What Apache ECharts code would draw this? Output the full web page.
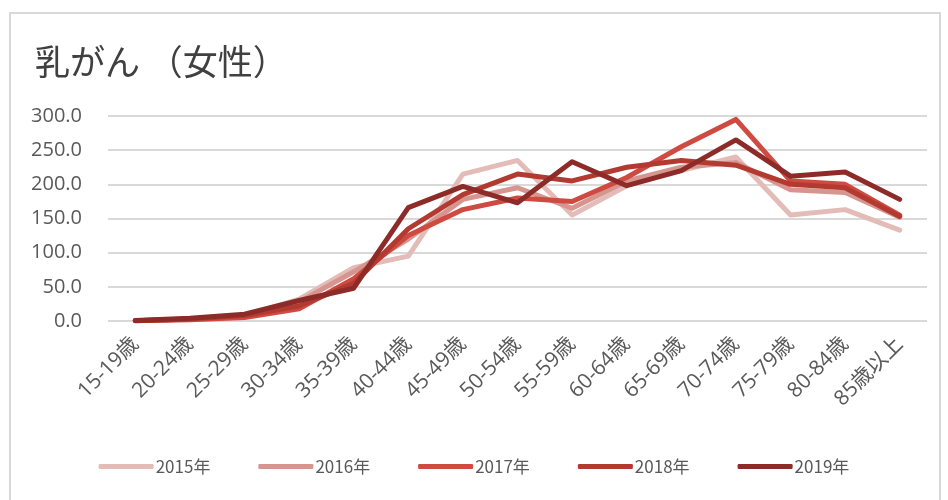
<!DOCTYPE html>
<html><head><meta charset="utf-8">
<script src="https://cdn.jsdelivr.net/npm/echarts@6/dist/echarts.min.js"></script>
<style>html,body{margin:0;padding:0;background:#fff}#c{width:948px;height:500px}</style>
</head><body><div id="c"></div>
<script>
const categories = ['15-19歳','20-24歳','25-29歳','30-34歳','35-39歳','40-44歳','45-49歳','50-54歳','55-59歳','60-64歳','65-69歳','70-74歳','75-79歳','80-84歳','85歳以上'];
const yTicks = [0, 50, 100, 150, 200, 250, 300];
const seriesNames = ['2015年','2016年','2017年','2018年','2019年'];
const v2015 = [0.5, 3, 8, 32, 78, 95, 215, 235, 155, 198, 220, 240, 155, 163, 133];
const v2016 = [0.5, 3, 7, 28, 72, 120, 178, 195, 165, 205, 225, 232, 192, 188, 152];
const v2017 = [0.4, 2, 5, 18, 62, 125, 163, 180, 175, 210, 255, 295, 205, 200, 155];
const v2018 = [0.5, 3, 8, 22, 55, 135, 185, 215, 205, 225, 235, 228, 200, 195, 153];
const v2019 = [0.6, 4, 10, 30, 48, 166, 197, 173, 233, 198, 220, 265, 212, 218, 178];
const colors = ['#e3bcb8','#d6958e','#cf4a40','#b33a31','#8c2b28'];
const values = [v2015, v2016, v2017, v2018, v2019];

const chart = echarts.init(document.getElementById('c'));
chart.setOption({
  animation: false,
  backgroundColor: '#fff',
  color: colors,
  graphic: [{type:'rect', shape:{x:10,y:13,width:930,height:490}, style:{fill:'none', stroke:'#d9d9d9', lineWidth:2}, silent:true}],
  title: {text:'乳がん （女性）', left:30, top:39, textStyle:{fontFamily:'Noto Sans CJK JP', fontSize:35, fontWeight:'normal', color:'#404040'}},
  grid: {left:108, right:21, top:116, bottom:179},
  legend: {bottom:20, left:'center', itemWidth:55, itemHeight:5, itemGap:48, icon:'roundRect',
    textStyle:{fontFamily:'Noto Sans CJK JP', fontSize:17, color:'#595959', padding:[0,0,0,-3]},
    data: seriesNames},
  xAxis: {type:'category', data:categories, boundaryGap:true,
    axisLine:{show:false}, axisTick:{show:false},
    axisLabel:{rotate:45, fontFamily:'Open Sans, Noto Sans CJK JP', fontSize:21, color:'#595959', margin:20, interval:0}},
  yAxis: {type:'value', min:yTicks[0], max:yTicks[yTicks.length-1], interval:50,
    axisLine:{show:false}, axisTick:{show:false},
    splitLine:{lineStyle:{color:'#d9d9d9', width:2}},
    axisLabel:{formatter: v => v.toFixed(1), fontFamily:'Open Sans', fontSize:20, color:'#595959', margin:26}},
  series: values.map((d,i)=>({name:seriesNames[i], type:'line', data:d, showSymbol:false, symbol:'none',
    lineStyle:{width:5, color:colors[i], cap:'round', join:'round'}, itemStyle:{color:colors[i]}}))
});
</script></body></html>
